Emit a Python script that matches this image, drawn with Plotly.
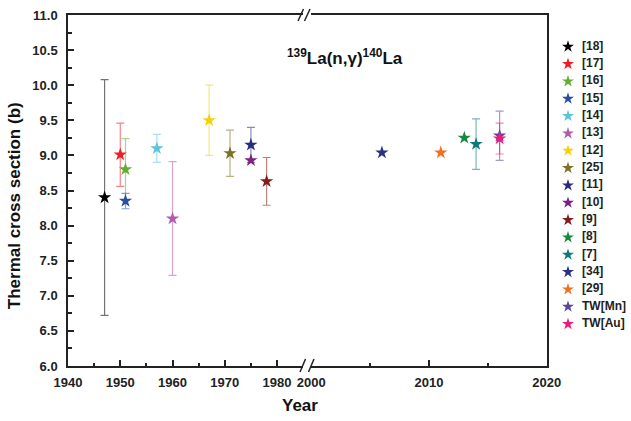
import plotly.graph_objects as go

# ---------------- data ----------------
labels = ["[18]", "[17]", "[16]", "[15]", "[14]", "[13]", "[12]", "[25]", "[11]",
          "[10]", "[9]", "[8]", "[7]", "[34]", "[29]", "TW[Mn]", "TW[Au]"]
years = [1947, 1950, 1951, 1951, 1957, 1960, 1967, 1971, 1975,
         1975, 1978, 2013, 2014, 2006, 2011, 2016, 2016]
values = [8.40, 9.01, 8.80, 8.35, 9.10, 8.10, 9.50, 9.03, 9.15,
          8.93, 8.63, 9.25, 9.16, 9.04, 9.04, 9.28, 9.24]
errors = [1.68, 0.45, 0.44, 0.11, 0.20, 0.81, 0.50, 0.33, 0.25,
          0.0, 0.34, 0.0, 0.36, 0.0, 0.0, 0.35, 0.22]
colors = ["#000000", "#ee1c25", "#5fae2e", "#2b4ea2", "#5ec4dc", "#b15aaf",
          "#f5d10a", "#7b7421", "#262d7a", "#7e2187", "#851a1a", "#168a3c",
          "#0b7a7a", "#283282", "#f07021", "#5b479f", "#ec1c7d"]

y_ticks = [6.0, 6.5, 7.0, 7.5, 8.0, 8.5, 9.0, 9.5, 10.0, 10.5, 11.0]

# ---------------- layout helpers ----------------
W, H = 631, 421
ML, MR, MT, MB = 68, 0, 15, 55
PW, PH = W - ML - MR, H - MT - MB


def px_x(p):
    return (p - ML) / PW


def px_y(p):
    return (H - MB - p) / PH


def rgba(hexc, a):
    h = hexc.lstrip("#")
    r, g, b = int(h[0:2], 16), int(h[2:4], 16), int(h[4:6], 16)
    return f"rgba({r},{g},{b},{a})"


FONT = "Liberation Sans, Arial, sans-serif"
AX = "#222222"

fig = go.Figure()

for lab, yr, v, e, c in zip(labels, years, values, errors, colors):
    right = yr >= 2000
    fig.add_trace(go.Scatter(
        x=[yr], y=[v], mode="markers", name=lab, showlegend=False,
        xaxis="x2" if right else "x", yaxis="y2" if right else "y",
        marker=dict(symbol="star", size=10, color=c, line=dict(width=0)),
        error_y=dict(type="data", array=[e], visible=e > 0,
                     color=rgba(c, 0.55), thickness=1.2, width=4),
        cliponaxis=False,
    ))

# custom legend (drawn on its own axis)
idx = list(range(len(labels)))
fig.add_trace(go.Scatter(
    x=[13] * len(labels), y=idx, mode="markers", showlegend=False,
    xaxis="x3", yaxis="y3",
    marker=dict(symbol="star", size=9, color=colors, line=dict(width=0)),
    hoverinfo="skip"))
fig.add_trace(go.Scatter(
    x=[27] * len(labels), y=idx, mode="text", text=labels, showlegend=False,
    textposition="middle right", xaxis="x3", yaxis="y3",
    textfont=dict(family=FONT, size=12, color="#222222", weight="bold"),
    hoverinfo="skip"))

tickfont = dict(family=FONT, size=13, color="#222222", weight="bold")
common_x = dict(showline=True, linecolor=AX, linewidth=1.5, mirror=True,
                ticks="inside", ticklen=6, tickwidth=1.5, tickcolor=AX,
                showgrid=False, zeroline=False, tickfont=tickfont,
                ticklabelstandoff=4, automargin=False,
                minor=dict(dtick=5, ticks="inside", ticklen=3, tickwidth=1.5,
                           tickcolor=AX, showgrid=False))

fig.update_layout(
    template="none",
    width=W, height=H, autosize=False,
    margin=dict(l=ML, r=MR, t=MT, b=MB, pad=0, autoexpand=False),
    paper_bgcolor="white", plot_bgcolor="white",
    showlegend=False,
    xaxis=dict(domain=[0, px_x(303.2)], range=[1940, 1985], anchor="y",
               tick0=1940, dtick=10, **common_x),
    xaxis2=dict(domain=[px_x(311.3), px_x(546.7)], range=[2000, 2020],
                anchor="y2", tick0=2000, dtick=10, **common_x),
    yaxis=dict(domain=[0, 1], range=[6, 11], anchor="x",
               showline=True, linecolor=AX, linewidth=1.5,
               ticks="inside", ticklen=6, tickwidth=1.5, tickcolor=AX,
               tickvals=y_ticks, ticktext=[f"{t:.1f}" for t in y_ticks],
               tickfont=tickfont, ticklabelstandoff=6, automargin=False,
               showgrid=False, zeroline=False,
               minor=dict(dtick=0.25, ticks="inside", ticklen=4,
                          tickwidth=1.5, tickcolor=AX, showgrid=False)),
    yaxis2=dict(domain=[0, 1], range=[6, 11], anchor="x2", side="right",
                showline=True, linecolor=AX, linewidth=1.5,
                ticks="", showticklabels=False, showgrid=False,
                zeroline=False, automargin=False),
    xaxis3=dict(domain=[px_x(555), 1.0], range=[0, 76], anchor="y3",
                visible=False, automargin=False),
    yaxis3=dict(domain=[px_y(332.7), px_y(38)], range=[16.5, -0.5],
                anchor="x3", visible=False, automargin=False),
)

# axis break marks
for (x0, x1, y0, y1) in [(298, 303.5, 21, 9), (304.5, 310, 21, 9),
                         (300, 305.5, 372, 359), (308.5, 314, 372, 359)]:
    fig.add_shape(type="line", xref="paper", yref="paper",
                  x0=px_x(x0), x1=px_x(x1), y0=px_y(y0), y1=px_y(y1),
                  line=dict(color=AX, width=1.5))

# titles
ann_font = dict(family=FONT, size=17, color="#111111", weight="bold")
fig.add_annotation(text="<sup>139</sup>La(n,γ)<sup>140</sup>La",
                   xref="paper", yref="paper", x=px_x(345), y=px_y(57),
                   xanchor="center", yanchor="middle", showarrow=False,
                   font=ann_font)
fig.add_annotation(text="Year", xref="paper", yref="paper",
                   x=px_x(300), y=px_y(406), xanchor="center",
                   yanchor="middle", showarrow=False, font=ann_font)
fig.add_annotation(text="Thermal cross section (b)", xref="paper", yref="paper",
                   x=px_x(14.5), y=px_y(205.7), textangle=-90,
                   xanchor="center", yanchor="middle", showarrow=False,
                   font=ann_font)

fig.write_html("out.html")
